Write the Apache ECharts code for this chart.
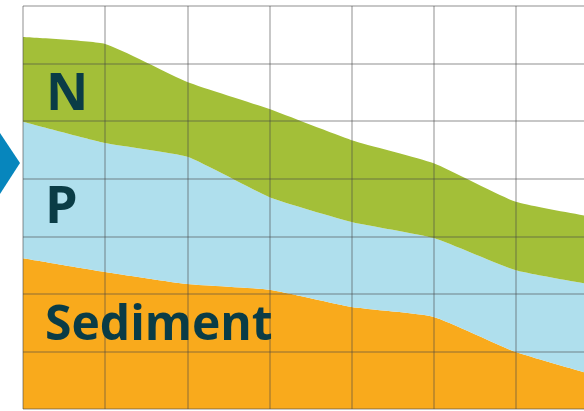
<!DOCTYPE html>
<html>
<head>
<meta charset="utf-8">
<script src="https://cdn.jsdelivr.net/npm/echarts@6/dist/echarts.min.js"></script>
<style>
  html, body { margin: 0; padding: 0; background: #fff; }
  #chart { width: 584px; height: 411px; }
</style>
</head>
<body>
<div id="chart"></div>
<script>
// grid columns 0..7, values are grid rows
const columns = ['0', '1', '2', '3', '4', '5', '6', '7']
const sediment = [2.62, 2.38, 2.17, 2.07, 1.77, 1.60, 0.99, 0.57]
const phosphorus = [2.37, 2.24, 2.21, 1.61, 1.48, 1.37, 1.42, 1.57]
const nitrogen = [1.47, 1.72, 1.30, 1.53, 1.42, 1.30, 1.19, 1.18]
const labels = ['N', 'P', 'Sediment']

const chart = echarts.init(document.getElementById('chart'))

// grid lines sit on top of the filled areas
const gridLine = {
  show: true,
  lineStyle: { color: 'rgba(70,70,70,0.3)', width: 2 }
}
const hidden = {
  z: 5,
  axisLine: { show: false },
  axisTick: { show: false },
  axisLabel: { show: false },
  splitLine: gridLine
}

const textStyle = {
  fill: '#0a3c46',
  fontFamily: 'Open Sans',
  fontWeight: 'bold'
}

function areaSeries(name, color, data) {
  return {
    name: name,
    type: 'line',
    stack: 'all',
    smooth: 0.15,
    showSymbol: false,
    lineStyle: { width: 0 },
    areaStyle: { color: color, opacity: 1 },
    data: data
  }
}

const option = {
  backgroundColor: '#fff',
  animation: false,
  grid: { left: 23, right: -14, top: 6, bottom: 2, outerBoundsMode: 'none' },
  xAxis: { type: 'category', data: columns, boundaryGap: false, ...hidden },
  yAxis: { type: 'value', min: 0, max: 7, interval: 1, ...hidden },
  series: [
    areaSeries('Sediment', '#f9aa1c', sediment),
    areaSeries('P', '#afdfed', phosphorus),
    areaSeries('N', '#a3bf38', nitrogen)
  ],
  graphic: [
    {
      type: 'polygon',
      z: 10,
      shape: { points: [[0, 133], [20, 163], [0, 194]] },
      style: { fill: '#0786bd' }
    },
    {
      type: 'text', z: 10, left: 46, top: 69,
      style: { ...textStyle, text: labels[0], fontSize: 52 }
    },
    {
      type: 'text', z: 10, left: 45, top: 182,
      style: { ...textStyle, text: labels[1], fontSize: 52 }
    },
    {
      type: 'text', z: 10, left: 45, top: 302,
      style: { ...textStyle, text: labels[2], fontSize: 48 }
    }
  ]
}

chart.setOption(option)
</script>
</body>
</html>
